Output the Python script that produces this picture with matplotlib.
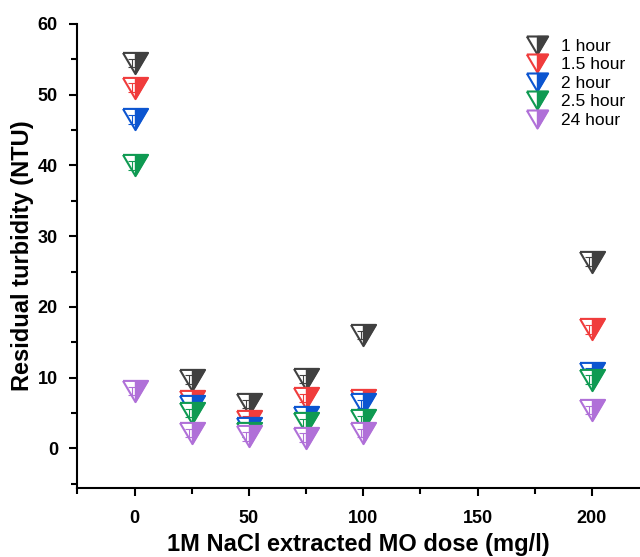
import matplotlib.pyplot as plt
import numpy as np

plt.rcParams['font.family'] = ['Liberation Sans', 'DejaVu Sans']

# doses (mg/l)
dose = [0, 25, 50, 75, 100, 200]
# residual turbidity (NTU) per settling time
t_1h = [54.5, 9.7, 6.3, 9.8, 16.0, 26.4]
t_15h = [51.0, 6.7, 3.9, 7.1, 6.8, 16.8]
t_2h = [46.5, 6.0, 2.9, 4.4, 6.3, 10.7]
t_25h = [40.0, 5.0, 2.2, 3.6, 4.0, 9.7]
t_24h = [8.1, 2.2, 1.7, 1.5, 2.2, 5.4]
labels = ["1 hour", "1.5 hour", "2 hour", "2.5 hour", "24 hour"]
colors = ["#404040", "#f03c3c", "#0c55d0", "#0f9a52", "#b070d8"]
series = [t_1h, t_15h, t_2h, t_25h, t_24h]

# wide down-pointing triangle, and its right half
tri = [(-1.18, 1), (1.18, 1), (0, -1), (-1.18, 1)]
tri_right = [(0, 1), (1.18, 1), (0, -1), (0, 1)]

fig = plt.figure(figsize=(6.4, 5.57), dpi=100)
ax = fig.add_axes([0.121, 0.124, 0.879, 0.833])

handles = []
for vals, lab, c in zip(series, labels, colors):
    h1, = ax.plot(dose, vals, linestyle="none", marker=tri, ms=18,
                  markerfacecolor="white", markeredgecolor=c, markeredgewidth=1.5)
    h2, = ax.plot(dose, vals, linestyle="none", marker=tri_right, ms=18,
                  markerfacecolor=c, markeredgecolor=c, markeredgewidth=1.0)
    # small error bars drawn inside the markers
    ax.errorbar(np.array(dose) - 1.2, vals, yerr=0.6, fmt="none", ecolor=c,
                elinewidth=0.8, capsize=3, capthick=0.8)
    handles.append((h1, h2))

ax.set_xlim(-25, 221)
ax.set_ylim(-5.6, 60)
ax.set_xticks([0, 50, 100, 150, 200])
ax.set_xticks([-25, 25, 75, 125, 175], minor=True)
ax.set_yticks(np.arange(0, 61, 10))
ax.set_yticks(np.arange(-5, 60, 10), minor=True)
for s in ["top", "right"]:
    ax.spines[s].set_visible(False)
for s in ["left", "bottom"]:
    ax.spines[s].set_linewidth(1.5)
ax.tick_params(which="major", direction="out", length=6, width=1.5, labelsize=13)
ax.tick_params(axis="x", which="major", pad=10)
ax.tick_params(axis="y", which="major", pad=8)
ax.tick_params(which="minor", direction="out", length=4, width=1.5)
for t in ax.get_xticklabels() + ax.get_yticklabels():
    t.set_fontweight("bold")

ax.set_xlabel("1M NaCl extracted MO dose (mg/l)", fontsize=17, fontweight="bold", labelpad=4)
ax.set_ylabel("Residual turbidity (NTU)", fontsize=17, fontweight="bold", labelpad=3)

ax.legend(handles, labels, loc="upper right", bbox_to_anchor=(0.995, 0.995),
          frameon=False, fontsize=12.5, handletextpad=0.6, labelspacing=0.2,
          borderpad=0.2, markerscale=0.85, handlelength=1.5)

plt.savefig("out.png", dpi=100)
